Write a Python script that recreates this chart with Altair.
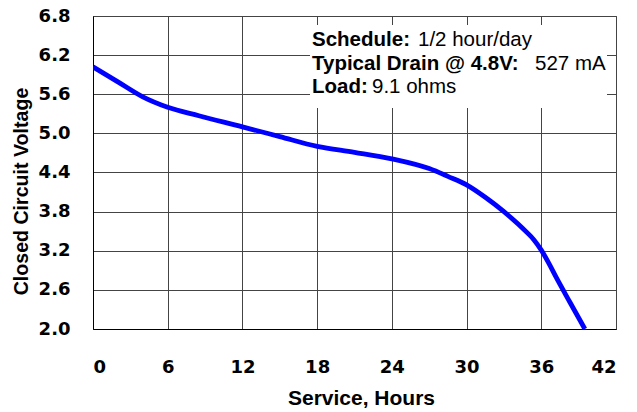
import altair as alt
import pandas as pd

# Discharge curve
hours = [0, 2, 4, 6, 8.5, 12, 15, 18, 21, 24, 27, 28.5, 30, 31.5, 33, 34.8, 35.4, 36, 36.6, 37.2, 38.3, 39.5]
volts = [6.02, 5.79, 5.56, 5.40, 5.27, 5.10, 4.95, 4.80, 4.71, 4.61, 4.46, 4.34, 4.21, 4.02, 3.80, 3.49, 3.37, 3.21, 3.01, 2.79, 2.41, 2.00]

x_ticks = [0, 6, 12, 18, 24, 30, 36, 42]
y_ticks = [2.0, 2.6, 3.2, 3.8, 4.4, 5.0, 5.6, 6.2, 6.8]

x_title = "Service, Hours"
y_title = "Closed Circuit Voltage"

# Annotation pieces
ann_bold = ["Schedule:", "Typical Drain", "@ 4.8V:", "Load:"]
ann_regular = ["1/2 hour/day", "527 mA", "9.1 ohms"]

df = pd.DataFrame({"hours": hours, "volts": volts})

line = alt.Chart(df).mark_line(
    color="#0000FF", strokeWidth=4.8, interpolate="monotone", clip=True
).encode(
    x=alt.X("hours:Q",
            scale=alt.Scale(domain=[0, 42], nice=False, zero=False),
            axis=alt.Axis(values=x_ticks, title=x_title, grid=True,
                          labelBaseline="alphabetic", labelPadding=43,
                          titleX=268, titleY=75, titleBaseline="alphabetic",
                          titleAlign="center")),
    y=alt.Y("volts:Q",
            scale=alt.Scale(domain=[2.0, 6.8], nice=False, zero=False),
            axis=alt.Axis(values=y_ticks, format=".1f", title=y_title, grid=True,
                          labelPadding=23, titleX=-72, titleY=175,
                          titleAngle=270, titleAlign="center",
                          titleBaseline="middle", titleFontSize=19.6)),
)

box = alt.Chart(pd.DataFrame({"k": [0]})).mark_rect(fill="white").encode(
    x=alt.value(217), x2=alt.value(514), y=alt.value(9), y2=alt.value(92)
)

def label(text, px, py, bold):
    return alt.Chart(pd.DataFrame({"t": [text]})).mark_text(
        align="left", baseline="alphabetic", font="Liberation Sans",
        fontSize=20.5, fontWeight="bold" if bold else "normal", color="black"
    ).encode(x=alt.value(px), y=alt.value(py), text="t:N")

texts = [
    label(ann_bold[0], 219, 30, True),
    label(ann_regular[0], 325, 30, False),
    label(ann_bold[1], 219, 53.5, True),
    label(ann_bold[2], 352, 53.5, True),
    label(ann_regular[1], 442, 53.5, False),
    label(ann_bold[3], 219, 77, True),
    label(ann_regular[2], 279, 77, False),
]

chart = alt.layer(box, line, *texts).properties(
    width=523, height=313,
    autosize=alt.AutoSizeParams(type="none"),
    padding={"left": 85, "top": 8, "right": 12, "bottom": 80},
).configure_view(
    stroke="#444444", strokeWidth=1
).configure_axis(
    domainColor="black", domainWidth=1,
    gridColor="#444444", gridOpacity=1, gridWidth=1,
    tickSize=0,
    labelFont="DejaVu Sans", labelFontWeight="bold", labelFontSize=18,
    labelColor="black",
    titleFont="Liberation Sans", titleFontWeight="bold", titleFontSize=21,
    titleColor="black",
)

chart.save("out.html", embed_options={"renderer": "svg", "actions": False})
